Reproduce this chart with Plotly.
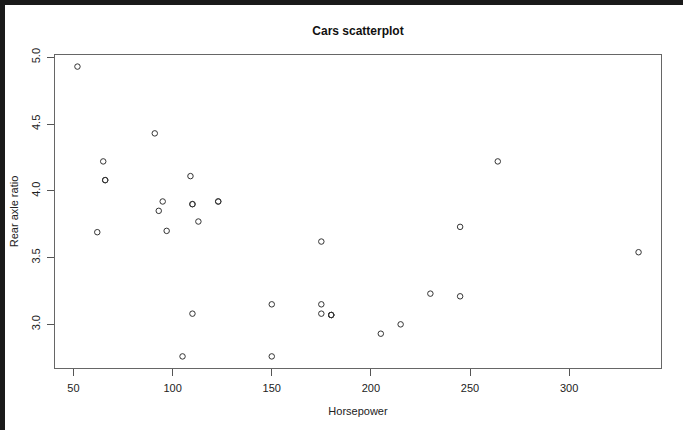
import plotly.graph_objects as go

hp = [110, 110, 93, 110, 175, 105, 245, 62, 95, 123, 123, 180, 180, 180, 205, 215,
      230, 66, 52, 65, 97, 150, 150, 245, 175, 66, 91, 113, 264, 175, 335, 109]
drat = [3.90, 3.90, 3.85, 3.08, 3.15, 2.76, 3.21, 3.69, 3.92, 3.92, 3.92, 3.07, 3.07, 3.07,
        2.93, 3.00, 3.23, 4.08, 4.93, 4.22, 3.70, 2.76, 3.15, 3.73, 3.08, 4.08, 4.43, 3.77,
        4.22, 3.62, 3.54, 4.11]
x_ticks = [50, 100, 150, 200, 250, 300]
y_ticks = [3.0, 3.5, 4.0, 4.5, 5.0]
y_ticklabels = ["3.0", "3.5", "4.0", "4.5", "5.0"]

W, H = 683, 430
L, R, T, B = 55, 22, 55, 62
pw, ph = W - L - R, H - T - B

fig = go.Figure()
fig.add_trace(go.Scatter(
    x=hp, y=drat, mode="markers",
    marker=dict(symbol="circle-open", size=5.5, color="#333", line=dict(width=1, color="#333")),
    showlegend=False, hoverinfo="skip"))

font = "Liberation Sans, Arial, Helvetica, sans-serif"
xmin, xmax = min(hp), max(hp)
ymin, ymax = min(drat), max(drat)
dx, dy = (xmax - xmin) * 0.04, (ymax - ymin) * 0.04

fig.update_layout(
    width=W, height=H,
    margin=dict(l=L, r=R, t=T, b=B, pad=0),
    paper_bgcolor="white", plot_bgcolor="white",
    font=dict(family=font, size=11, color="#222"),
    title=dict(text="<b>Cars scatterplot</b>", x=(L + pw / 2) / W, xanchor="center",
               y=1 - 31 / H, yanchor="middle", font=dict(size=12, color="#111")),
    xaxis=dict(range=[xmin - dx, xmax + dx], tickvals=x_ticks, ticks="outside", ticklen=7,
               tickcolor="#555", showgrid=False, zeroline=False, showline=True,
               linecolor="#666", linewidth=1, mirror=True,
               tickfont=dict(color="#222"),
               title=dict(text="Horsepower", standoff=14, font=dict(size=11)),
               ticklabelstandoff=3),
    yaxis=dict(range=[ymin - dy, ymax + dy], tickvals=y_ticks, ticktext=y_ticklabels,
               ticks="outside", ticklen=7, tickcolor="#555", tickangle=-90,
               showgrid=False, zeroline=False, showline=True,
               linecolor="#666", linewidth=1, mirror=True,
               tickfont=dict(color="#222"),
               title=dict(text="Rear axle ratio", standoff=8, font=dict(size=11)),
               ticklabelstandoff=3),
    shapes=[
        dict(type="rect", xref="paper", yref="paper",
             x0=-L / pw, x1=(-L + 5) / pw, y0=-B / ph, y1=1 + T / ph,
             fillcolor="#1a1a1a", line=dict(width=0), layer="above"),
        dict(type="rect", xref="paper", yref="paper",
             x0=-L / pw, x1=1 + R / pw, y0=1 + (T - 5) / ph, y1=1 + T / ph,
             fillcolor="#1a1a1a", line=dict(width=0), layer="above"),
    ],
)

fig.write_html("out.html")
